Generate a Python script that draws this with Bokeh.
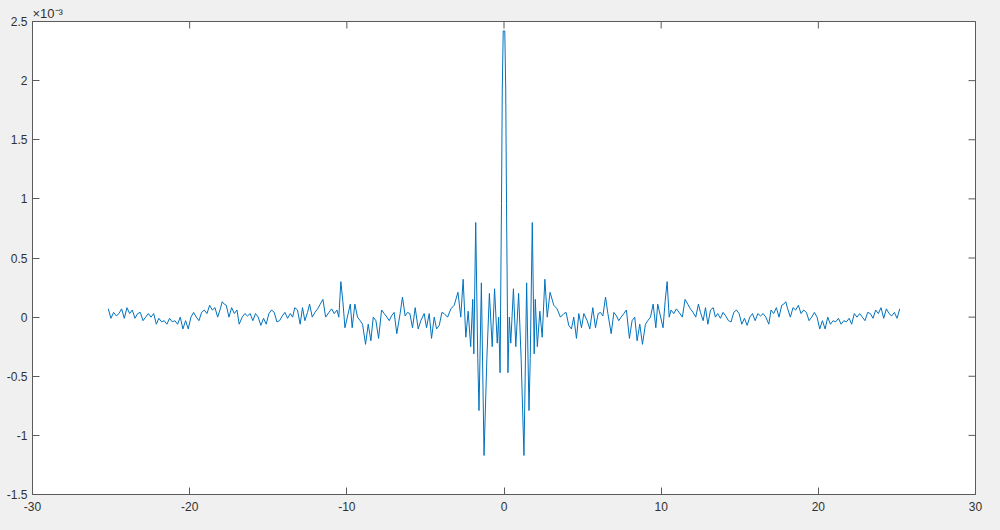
import math
from bokeh.plotting import figure
from bokeh.models import Range1d, FixedTicker, LinearAxis, Title
from bokeh.embed import file_html
from bokeh.resources import INLINE

# Right half of the (symmetric) signal, x in units, y in units of 1e-3
x_right = [0.05, 0.11, 0.16, 0.25, 0.34, 0.43, 0.60, 0.75, 0.93, 1.09,
           1.27, 1.44, 1.59, 1.67, 1.80, 1.92, 1.99, 2.12, 2.28, 2.43,
           2.60, 2.75, 2.93,
           3.17, 3.38, 3.59, 3.81, 3.95, 4.12, 4.29, 4.44, 4.61, 4.76,
           4.93, 5.08, 5.29, 5.46, 5.65, 5.82, 5.99, 6.14, 6.29, 6.46,
           6.61, 6.82, 6.99, 7.16, 7.30, 7.45, 7.62, 7.79, 7.98, 8.15,
           8.32, 8.47, 8.64, 8.81, 9.00, 9.15, 9.32, 9.49, 9.66, 9.78,
           9.95, 10.12, 10.25, 10.38, 10.51, 10.63, 10.80, 10.97, 11.14, 11.35,
           11.52, 11.69, 11.86, 12.03, 12.20, 12.37,
           12.50, 12.67, 12.82, 12.97, 13.14, 13.31, 13.45, 13.60, 13.77, 13.94,
           14.11, 14.28, 14.45, 14.62, 14.79, 14.96, 15.13, 15.30, 15.47, 15.64,
           15.81, 15.98, 16.15, 16.32, 16.49, 16.66, 16.85, 16.99, 17.16, 17.33,
           17.50, 17.67, 17.80, 17.93, 18.05, 18.22, 18.39, 18.56, 18.73, 18.90,
           19.07, 19.24, 19.41, 19.58, 19.75, 19.92, 20.09, 20.26, 20.43, 20.60,
           20.77, 20.94, 21.11, 21.28, 21.45, 21.62, 21.79, 21.96, 22.12, 22.29,
           22.46, 22.63, 22.80, 22.97, 23.14, 23.31, 23.48, 23.65, 23.82, 23.99,
           24.16, 24.33, 24.50, 24.67, 24.84, 25.01, 25.18]
y_right = [2.42, 1.92, 0.96, -0.47, 0.00, -0.22, 0.24, -0.25, 0.20, -0.35,
           -1.17, 0.29, -0.79, -0.35, 0.80, -0.31, 0.15, -0.25, 0.05, -0.17,
           0.32, 0.00, 0.21,
           0.10, 0.07, 0.00, 0.03, 0.04, -0.07, -0.10, 0.00, -0.18, 0.03,
           -0.09, 0.03, -0.03, -0.10, 0.08, -0.09, 0.03, 0.04, 0.01, 0.17,
           0.03, -0.14, 0.04, 0.01, -0.03, 0.00, 0.03, 0.06, -0.18, -0.03,
           0.00, -0.20, -0.06, -0.23, -0.06, -0.03, 0.00, 0.11, -0.09, 0.11,
           0.01, -0.09, 0.13, 0.30, 0.00, 0.06, 0.03, 0.07, 0.04, 0.00,
           0.15, 0.11, 0.07, 0.04, 0.00, 0.11,
           0.04, -0.03, 0.08, -0.06, 0.06, 0.08, 0.00, 0.03, -0.01, 0.04,
           0.01, -0.03, -0.04, 0.04, 0.06, 0.03, -0.06, -0.01, -0.07, 0.00,
           0.03, -0.03, 0.03, 0.01, 0.03, 0.00, -0.06, 0.06, 0.03, 0.08,
           0.00, 0.10, 0.11, 0.13, 0.07, 0.00, 0.08, 0.06, 0.10, 0.03,
           0.06, 0.04, -0.03, 0.00, 0.04, 0.00, -0.10, -0.03, -0.10, 0.00,
           -0.06, -0.03, -0.04, -0.01, -0.06, -0.03, -0.04, -0.01, -0.06, 0.03,
           0.00, 0.03, 0.00, -0.03, 0.04, 0.03, -0.01, 0.06, 0.03, 0.08,
           -0.01, 0.07, 0.03, 0.01, 0.04, -0.01, 0.07]

# The picture is mirror-symmetric about x = 0
x_vals = [-v for v in reversed(x_right)] + x_right
y_vals = list(reversed(y_right)) + y_right

x_ticks = [-30, -20, -10, 0, 10, 20, 30]
y_ticks = [-1.5, -1, -0.5, 0, 0.5, 1, 1.5, 2, 2.5]
y_tick_labels = ["-1.5", "-1", "-0.5", "0", "0.5", "1", "1.5", "2", "2.5"]
x_tick_labels = ["-30", "-20", "-10", "0", "10", "20", "30"]
exponent_text = "\u00d710\u207b\u00b3"

BG = "#f0f0f0"
AX = "#5a5a5a"
TXT = "#303030"
FONT = "Liberation Sans"

X0, X1 = -30, 30
Y0, Y1 = -1.5, 2.5

p = figure(width=992, height=522, output_backend="svg", toolbar_location=None,
           x_range=Range1d(X0, X1), y_range=Range1d(Y0, Y1),
           min_border_left=32, min_border_right=17, min_border_top=21,
           min_border_bottom=28, x_axis_location=None, y_axis_location=None)
p.background_fill_color = "white"
p.border_fill_color = BG
p.outline_line_color = AX
p.grid.visible = False

p.line(x_vals, y_vals, line_color="#0072BD", line_width=1)


def make_axis(ticks, labels, standoff):
    ax = LinearAxis(ticker=FixedTicker(ticks=ticks))
    ax.axis_line_color = AX
    ax.major_tick_line_color = AX
    ax.major_tick_in = 7
    ax.major_tick_out = 0
    ax.minor_tick_line_color = None
    ax.major_label_text_font = FONT
    ax.major_label_text_color = TXT
    ax.major_label_standoff = standoff
    ax.major_label_overrides = {t: l for t, l in zip(ticks, labels)}
    ax.major_label_text_font_size = "12px"
    return ax


p.add_layout(make_axis(x_ticks, x_tick_labels, 7), "below")
p.add_layout(make_axis(y_ticks, y_tick_labels, 5), "left")

# inward ticks on the top and right edges (box on); markers are clipped to
# the frame, so a centred dash leaves only its inner half visible
p.scatter(x=x_ticks, y=[Y1] * len(x_ticks), marker="dash", angle=math.pi / 2,
          size=14, line_color=AX, line_width=1)
p.scatter(x=[X1] * len(y_ticks), y=y_ticks, marker="dash", angle=0,
          size=14, line_color=AX, line_width=1)

# axis exponent (x 10^-3) above the top-left corner of the axes
p.add_layout(Title(text=exponent_text, align="left", offset=0, standoff=2,
                   text_font=FONT, text_font_size="13px",
                   text_font_style="normal", text_color=TXT), "above")

html = file_html(p, INLINE)
html = html.replace("<head>", "<head><style>html,body{background:#f0f0f0;}</style>", 1)
open("out.html", "w").write(html)
